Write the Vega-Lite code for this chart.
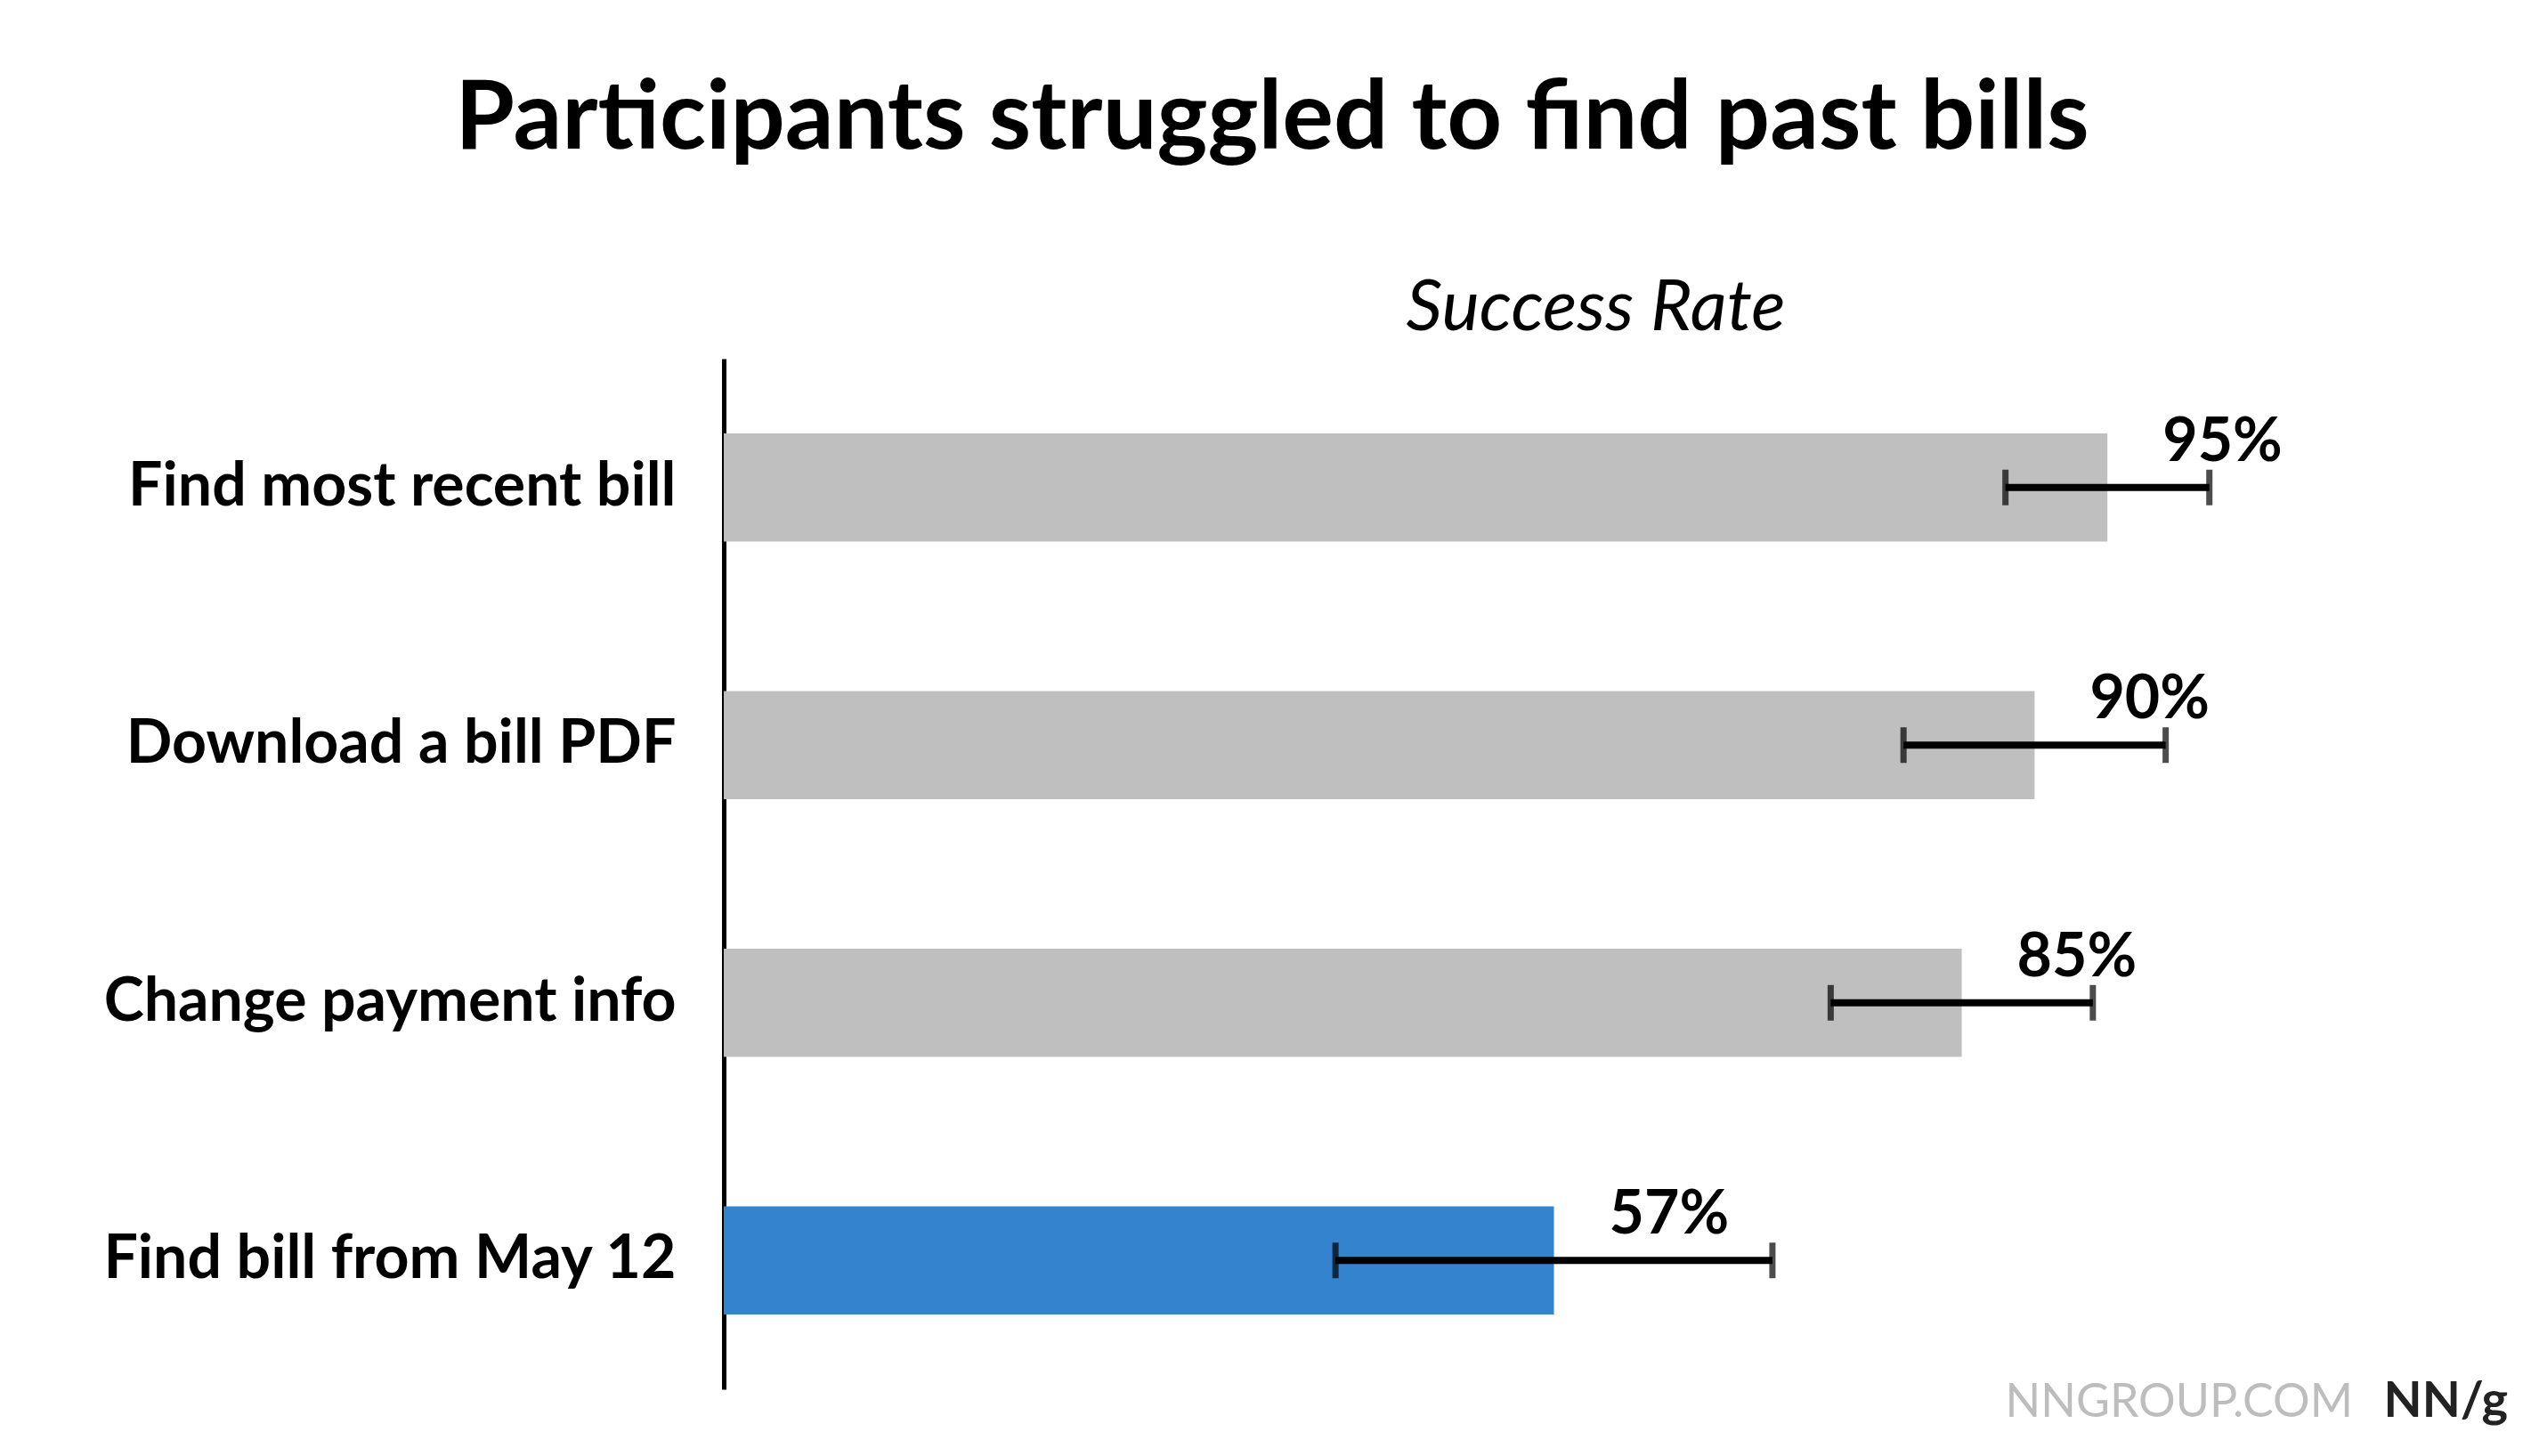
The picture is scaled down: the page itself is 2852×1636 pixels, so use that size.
{
  "$schema": "https://vega.github.io/schema/vega-lite/v6.json",
  "autosize": "none",
  "width": 1636,
  "height": 1158,
  "padding": {"left": 813, "top": 403, "right": 403, "bottom": 75},
  "background": "white",
  "config": {
    "view": {"stroke": null},
    "font": "Lato"
  },
  "title": {
    "text": "Participants struggled to find past bills",
    "font": "Lato",
    "fontSize": 108,
    "fontWeight": "bold",
    "color": "#000000",
    "anchor": "middle",
    "frame": "group",
    "dx": -202,
    "baseline": "alphabetic",
    "offset": 31
  },
  "data": {
    "values": [
      {"task": "Find most recent bill", "rate": 95, "lo": 88, "hi": 102, "label": "95%", "group": "other"},
      {"task": "Download a bill PDF", "rate": 90, "lo": 81, "hi": 99, "label": "90%", "group": "other"},
      {"task": "Change payment info", "rate": 85, "lo": 76, "hi": 94, "label": "85%", "group": "other"},
      {"task": "Find bill from May 12", "rate": 57, "lo": 42, "hi": 72, "label": "57%", "group": "highlight"}
    ]
  },
  "resolve": {"axis": {"x": "independent", "y": "independent"}},
  "layer": [
    {
      "mark": {"type": "bar"},
      "encoding": {
        "y": {
          "field": "task", "type": "nominal", "sort": null,
          "scale": {"paddingInner": 0.58, "paddingOuter": 0.29},
          "axis": {
            "orient": "left", "title": null, "ticks": false, "grid": false,
            "domain": true, "domainColor": "#000000", "domainWidth": 5,
            "labelFont": "Lato", "labelFontSize": 68, "labelFontWeight": "bold",
            "labelColor": "#000000", "labelPadding": 54, "labelLimit": 900
          }
        },
        "x": {
          "field": "rate", "type": "quantitative",
          "scale": {"domain": [0, 100], "nice": false},
          "axis": {
            "orient": "top", "title": "Success Rate", "labels": false, "ticks": false,
            "domain": false, "grid": false,
            "titleFont": "Lato", "titleFontSize": 80, "titleFontStyle": "italic",
            "titleFontWeight": "normal", "titleColor": "#000000",
            "titleX": 979, "titleY": -33, "titleAlign": "center", "titleBaseline": "alphabetic"
          }
        },
        "color": {
          "field": "group", "type": "nominal",
          "scale": {"domain": ["other", "highlight"], "range": ["#BFBFBF", "#3483CE"]},
          "legend": null
        }
      }
    },
    {
      "mark": {"type": "rule", "color": "#000000", "strokeWidth": 8},
      "encoding": {
        "y": {
          "field": "task", "type": "nominal", "sort": null,
          "axis": {
            "orient": "right", "title": "NN/g", "labels": false, "ticks": false,
            "domain": false, "grid": false,
            "titleFont": "Lato", "titleFontSize": 56, "titleFontWeight": "bold",
            "titleColor": "#222222", "titleAngle": 0,
            "titleX": 228, "titleY": 1188, "titleAlign": "left", "titleBaseline": "alphabetic"
          }
        },
        "x": {
          "field": "lo", "type": "quantitative",
          "axis": {
            "orient": "bottom", "title": "NNGROUP.COM", "labels": false, "ticks": false,
            "domain": false, "grid": false,
            "titleFont": "Lato", "titleFontSize": 52, "titleFontWeight": "normal",
            "titleColor": "#BDBDBD",
            "titleX": 1439, "titleY": 30, "titleAlign": "left", "titleBaseline": "alphabetic"
          }
        },
        "x2": {"field": "hi"}
      }
    },
    {
      "mark": {"type": "tick", "color": "#000000", "thickness": 7, "size": 40},
      "encoding": {
        "y": {"field": "task", "type": "nominal", "sort": null, "axis": null},
        "x": {"field": "lo", "type": "quantitative", "axis": null}
      }
    },
    {
      "mark": {"type": "tick", "color": "#000000", "thickness": 7, "size": 40},
      "encoding": {
        "y": {"field": "task", "type": "nominal", "sort": null, "axis": null},
        "x": {"field": "hi", "type": "quantitative", "axis": null}
      }
    },
    {
      "mark": {
        "type": "text", "align": "left", "baseline": "alphabetic",
        "dx": 62, "dy": -30, "font": "Lato", "fontSize": 68, "fontWeight": "bold",
        "color": "#000000"
      },
      "encoding": {
        "y": {"field": "task", "type": "nominal", "sort": null, "axis": null},
        "x": {"field": "rate", "type": "quantitative", "axis": null},
        "text": {"field": "label"}
      }
    }
  ]
}
